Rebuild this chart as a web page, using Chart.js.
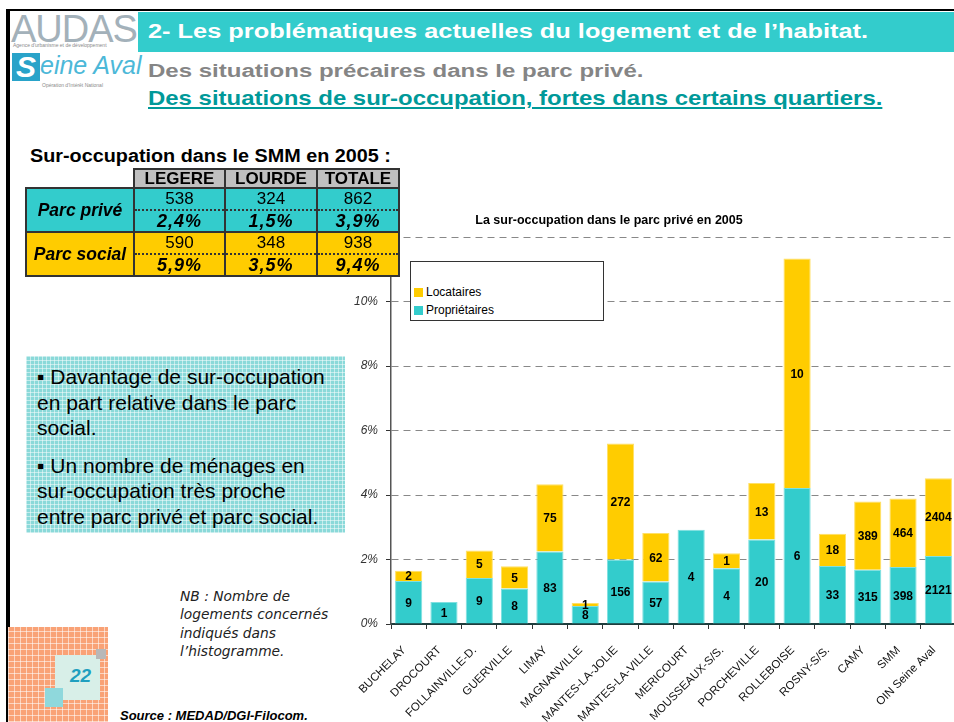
<!DOCTYPE html>
<html>
<head>
<meta charset="utf-8">
<script src="https://cdn.jsdelivr.net/npm/chart.js@4.4.1/dist/chart.umd.min.js"></script>
<style>
  body { margin: 0; }
  #page { position: relative; width: 954px; height: 722px; overflow: hidden; background: #fff;
          font-family: "Liberation Sans", Arial, sans-serif; }
  .abs { position: absolute; }
  .wide { transform-origin: 0 0; white-space: nowrap; }
  #frameL { left: 6px; top: 9px; width: 4px; height: 713px; background: #000; }
  #frameT { left: 6px; top: 9px; width: 948px; height: 2px; background: #000; }
  #bar { left: 138px; top: 12px; width: 816px; height: 40px; background: #33CCCC; }
  #h1 { left: 148px; top: 20px; font-size: 20px; font-weight: bold; color: #fff; transform: scaleX(1.268); }
  #h2 { left: 148px; top: 61px; font-size: 18px; font-weight: bold; color: #858585; transform: scaleX(1.335); }
  #h3 { left: 148px; top: 86px; font-size: 21px; font-weight: bold; color: #009999; transform: scaleX(1.14);
        text-decoration: underline; text-underline-offset: 2px; }
  #audas { left: 11px; top: 8px; font-size: 38px; color: #a3b1ba; letter-spacing: -1px; }
  #audasSub { left: 13px; top: 42px; font-size: 5px; color: #8a8a8a; white-space: nowrap; }
  #sBlock { left: 12px; top: 53px; width: 28px; height: 28px; background: #29a3c9; color: #fff;
            font-size: 30px; font-weight: bold; font-style: italic; line-height: 28px; text-align: center; }
  #seine { left: 40px; top: 51px; font-size: 25px; font-style: italic; color: #4cb8d8; white-space: nowrap; }
  #seineSub { left: 42px; top: 82px; font-size: 5px; color: #8a8a8a; white-space: nowrap; }
  #tblTitle { left: 30px; top: 146px; font-size: 18px; font-weight: bold; color: #000; transform: scaleX(1.1); }
  #tbl { left: 25px; top: 168px; border-collapse: collapse; z-index: 5; }
  #tbl td, #tbl th { padding: 0; text-align: center; font-size: 17px; color: #000; }
  #tbl th { background: #C0C0C0; border: 2px solid #333; height: 17px; line-height: 17px; font-weight: bold; }
  #tbl td.blank { border: none; background: transparent; }
  #tbl td.lab { border: 2px solid #333; font-weight: bold; font-style: italic; font-size: 17.5px; width: 106px; }
  #tbl td.num { border-left: 2px solid #333; border-right: 2px solid #333; border-bottom: 2px dotted #333; height: 20px; line-height: 20px; }
  #tbl td.pct { border-left: 2px solid #333; border-right: 2px solid #333; border-bottom: 2px solid #333;
                font-weight: bold; font-style: italic; font-size: 18px; letter-spacing: 1px; height: 20px; line-height: 20px; }
  .priv { background: #33CCCC; }
  .soc { background: #FFCC00; }
  #note { left: 26px; top: 356px; width: 319px; height: 177px; box-sizing: border-box; padding: 8px 0 0 11px;
          background: repeating-linear-gradient(0deg, rgba(255,255,255,.5) 0 1px, transparent 1px 4px),
                      repeating-linear-gradient(90deg, rgba(255,255,255,.5) 0 1px, transparent 1px 4px), #8ad9d9;
          font-size: 21px; line-height: 25.5px; color: #000; white-space: nowrap; }
  #note p { margin: 0 0 12px 0; }
  #nb { left: 180px; top: 587px; font-family: "DejaVu Sans", Verdana, sans-serif; font-style: italic;
        font-size: 13.8px; line-height: 18.3px; color: #222; white-space: nowrap; }
  #src { left: 120px; top: 708px; font-size: 13px; font-weight: bold; font-style: italic; white-space: nowrap; }
  #pg { left: 8px; top: 627px; width: 100px; height: 95px;
        background: repeating-linear-gradient(0deg, rgba(255,255,255,.55) 0 1px, transparent 1px 6px),
                    repeating-linear-gradient(90deg, rgba(255,255,255,.55) 0 1px, transparent 1px 6px), #f9a276; }
  #pgIn { left: 55px; top: 655px; width: 45px; height: 45px; background: #d8efe8; }
  #pgGray { left: 96px; top: 649px; width: 10px; height: 10px; background: #b8b8b8; }
  #pgCyan { left: 45px; top: 688px; width: 18px; height: 19px; background: #8fd8dc; }
  #pgNum { left: 70px; top: 665px; font-size: 19px; font-weight: bold; font-style: italic; color: #1f9fbf; }
  #chartWrap { left: 336px; top: 200px; width: 640px; height: 522px; }
  #chTitle { left: 470px; top: 213px; width: 278px; text-align: center; font-size: 12.5px; font-weight: bold; white-space: nowrap; }
  #legend { left: 410px; top: 261px; width: 194px; height: 60px; box-sizing: border-box; border: 1px solid #333;
            background: #fff; padding-top: 21px; padding-left: 3px; z-index: 4; }
  .lgItem { font-size: 12px; height: 18px; line-height: 18px; white-space: nowrap; }
  .lgBox { display: inline-block; width: 9px; height: 9px; margin-right: 3px; vertical-align: -1px; }
</style>
</head>
<body>
<div id="page">
  <div class="abs" id="frameL"></div>
  <div class="abs" id="frameT"></div>
  <div class="abs" id="audas">AUDAS</div>
  <div class="abs" id="audasSub">Agence d'urbanisme et de développement</div>
  <div class="abs" id="sBlock">S</div>
  <div class="abs" id="seine">eine Aval</div>
  <div class="abs" id="seineSub">Opération d'Intérêt National</div>
  <div class="abs" id="bar"></div>
  <div class="abs wide" id="h1">2- Les problématiques actuelles du logement et de l’habitat.</div>
  <div class="abs wide" id="h2">Des situations précaires dans le parc privé.</div>
  <div class="abs wide" id="h3">Des situations de sur-occupation, fortes dans certains quartiers.</div>

  <div class="abs" id="chartWrap"><canvas id="chart" width="640" height="522"></canvas></div>
  <div class="abs" id="chTitle">La sur-occupation dans le parc privé en 2005</div>
  <div class="abs" id="legend"></div>

  <div class="abs wide" id="tblTitle">Sur-occupation dans le SMM en 2005 :</div>
  <table class="abs" id="tbl">
    <tr><td class="blank"></td><th style="width:89px">LEGERE</th><th style="width:90px">LOURDE</th><th style="width:80px">TOTALE</th></tr>
    <tr><td class="lab priv" rowspan="2">Parc privé</td><td class="num priv">538</td><td class="num priv">324</td><td class="num priv">862</td></tr>
    <tr><td class="pct priv">2,4%</td><td class="pct priv">1,5%</td><td class="pct priv">3,9%</td></tr>
    <tr><td class="lab soc" rowspan="2">Parc social</td><td class="num soc">590</td><td class="num soc">348</td><td class="num soc">938</td></tr>
    <tr><td class="pct soc">5,9%</td><td class="pct soc">3,5%</td><td class="pct soc">9,4%</td></tr>
  </table>

  <div class="abs" id="note">
    <p>▪ Davantage de sur-occupation<br>en part relative dans le parc<br>social.</p>
    <p>▪ Un nombre de ménages en<br>sur-occupation très proche<br>entre parc privé et parc social.</p>
  </div>

  <div class="abs" id="nb">NB : Nombre de<br>logements concernés<br>indiqués dans<br>l’histogramme.</div>
  <div class="abs" id="pg"></div>
  <div class="abs" id="pgIn"></div>
  <div class="abs" id="pgGray"></div>
  <div class="abs" id="pgCyan"></div>
  <div class="abs" id="pgNum">22</div>
  <div class="abs" id="src">Source : MEDAD/DGI-Filocom.</div>
</div>

<script>
// communes
const communes = ['BUCHELAY', 'DROCOURT', 'FOLLAINVILLE-D.', 'GUERVILLE', 'LIMAY', 'MAGNANVILLE',
  'MANTES-LA-JOLIE', 'MANTES-LA-VILLE', 'MERICOURT', 'MOUSSEAUX-S/S.', 'PORCHEVILLE', 'ROLLEBOISE',
  'ROSNY-S/S.', 'CAMY', 'SMM', 'OIN Seine Aval'];

// part des ménages en sur-occupation (%)
const partProprietaires = [1.33, 0.68, 1.43, 1.10, 2.25, 0.56, 2.00, 1.32, 2.92, 1.73, 2.62, 4.22, 1.80, 1.68, 1.77, 2.11];
const partLocataires    = [0.32, 0,    0.85, 0.69, 2.08, 0.09, 3.60, 1.50, 0,    0.46, 1.75, 7.11, 1.00, 2.12, 2.12, 2.41];

// nombre de logements concernés (étiquettes)
const nbProprietaires = [9, 1, 9, 8, 83, 8, 156, 57, 4, 4, 20, 6, 33, 315, 398, 2121];
const nbLocataires    = [2, null, 5, 5, 75, 1, 272, 62, null, 1, 13, 10, 18, 389, 464, 2404];

const yMax = 12;
const yStep = 2;

const series = [
  { label: 'Propriétaires', data: partProprietaires, counts: nbProprietaires, color: '#33CCCC', border: '#7fe0e0' },
  { label: 'Locataires', data: partLocataires, counts: nbLocataires, color: '#FFCC00', border: '#ffe066' }
];

// legende (Locataires en premier)
const legend = document.getElementById('legend');
series.slice().reverse().forEach(s => {
  const d = document.createElement('div');
  d.className = 'lgItem';
  d.innerHTML = '<span class="lgBox" style="background:' + s.color + '"></span>' + s.label;
  legend.appendChild(d);
});

// etiquettes des nombres au milieu de chaque segment
const countLabels = {
  id: 'countLabels',
  afterDatasetsDraw(chart) {
    const ctx = chart.ctx;
    ctx.save();
    ctx.font = 'bold 12px "Liberation Sans", Arial';
    ctx.fillStyle = '#000';
    ctx.textAlign = 'center';
    ctx.textBaseline = 'middle';
    chart.data.datasets.forEach((ds, i) => {
      chart.getDatasetMeta(i).data.forEach((bar, j) => {
        const n = ds.counts[j];
        if (n == null) return;
        ctx.fillText(n, bar.x, (bar.y + bar.base) / 2 + 1);
      });
    });
    ctx.restore();
  }
};

new Chart(document.getElementById('chart'), {
  type: 'bar',
  data: {
    labels: communes,
    datasets: series.map(s => ({
      label: s.label,
      data: s.data,
      counts: s.counts,
      backgroundColor: s.color,
      borderColor: s.border,
      borderWidth: 1,
      categoryPercentage: 1,
      barPercentage: 0.77
    }))
  },
  options: {
    responsive: false,
    animation: false,
    devicePixelRatio: 1,
    layout: { padding: { top: 37, right: 20, left: 0, bottom: 0 } },
    plugins: {
      legend: { display: false },
      title: { display: false },
      tooltip: { enabled: false }
    },
    scales: {
      x: {
        stacked: true,
        grid: { display: true, drawOnChartArea: false, drawTicks: true, tickLength: 5, tickColor: '#333', tickWidth: 1 },
        border: { color: '#1e3c3c', width: 2 },
        ticks: {
          autoSkip: false, maxRotation: 45, minRotation: 45, padding: 10,
          color: '#111', font: { family: '"Liberation Sans", Arial', size: 11.5 },
          // deux espaces pour décaler le texte sous la graduation
          callback: function (v) { return this.getLabelForValue(v) + '  '; }
        },
        afterFit(scale) { scale.height = 98; }
      },
      y: {
        stacked: true,
        min: 0,
        max: yMax,
        grid: { color: '#888', lineWidth: 1, tickLength: 5, tickColor: '#333' },
        border: { color: '#555', width: 1.5, dash: [7, 5] },
        ticks: {
          stepSize: yStep, padding: 8, color: '#333',
          font: { family: '"Liberation Sans", Arial', size: 12, style: 'italic' },
          callback: v => v + '%'
        },
        afterFit(scale) { scale.width = 55; }
      }
    }
  },
  plugins: [countLabels]
});
</script>
</body>
</html>
